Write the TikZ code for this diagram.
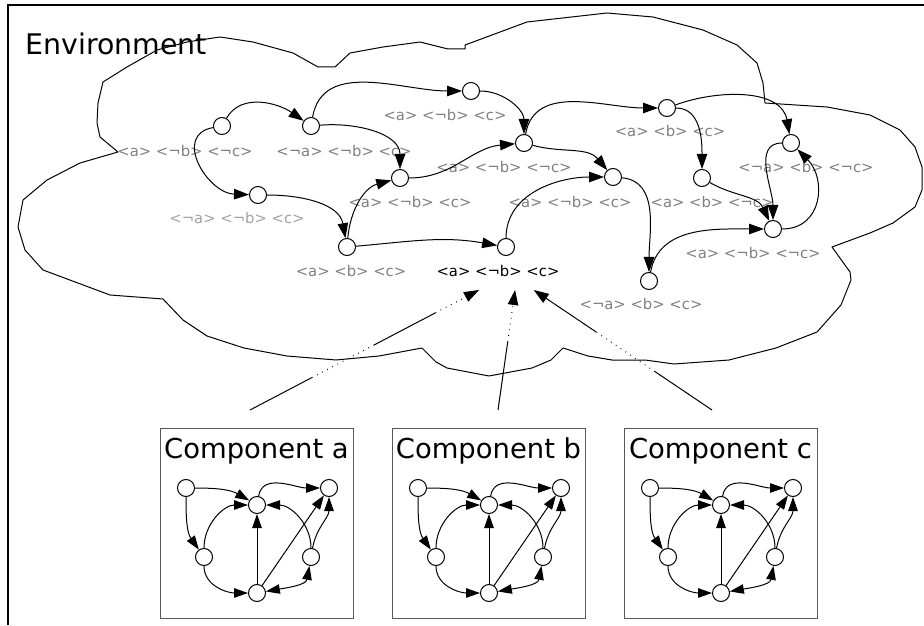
\documentclass[tikz,border=0pt]{standalone}
\usepackage{fontspec}
\setmainfont{DejaVu Sans}
\usetikzlibrary{arrows.meta}

\definecolor{labelgray}{gray}{0.5}
\definecolor{fadedgray}{gray}{0.64}
\definecolor{boxgray}{gray}{0.35}

\begin{document}
\begin{tikzpicture}[x=1pt,y=1pt,
    >={Triangle[length=15pt,width=10.5pt]},
    state/.style={circle,draw,fill=white,line width=1pt,minimum size=17pt,inner sep=0pt},
    lab/.style={text=labelgray,font=\fontsize{14.8}{17}\selectfont,inner sep=0pt,outer sep=0pt},
    trans/.style={line width=1pt},
    dotline/.style={dash pattern=on 0.8pt off 5pt},
    compbox/.style={draw=boxgray,line width=1pt},
    comptitle/.style={font=\fontsize{27.4}{32}\selectfont,anchor=base,inner sep=0pt}]

    \useasboundingbox (0,0) rectangle (924,625);

    \draw[line width=2pt] (8,0) -- (8,620) -- (924,620);
    \node[font=\fontsize{28.4}{34}\selectfont,anchor=base west,inner sep=0pt]
        (env) at (25.5,570) {Environment};

    \draw[line width=1pt,line join=round]
        (118,473) -- (100,488) -- (97,502) -- (98,522) -- (103,543) -- (127,558)
        -- (157,575) -- (187,583) -- (220,588) -- (253,583) -- (293,572) -- (318,558)
        -- (335,558) -- (350,572) -- (383,578) -- (420,583) -- (448,576) -- (465,576)
        -- (465,580) -- (527,603) -- (607,612) -- (653,608) -- (703,595) -- (737,580)
        -- (757,562) -- (763,542) -- (765,522) -- (827,518) -- (870,510) -- (900,495)
        -- (915,478) -- (922,458) -- (922,435) -- (915,418) -- (893,402) -- (870,392)
        -- (832,378) -- (850,353) -- (851,345) -- (841,320) -- (817,293) -- (776,277)
        -- (729,265) -- (674,261) -- (645,265) -- (612,265) -- (588,269) -- (563,277)
        -- (551,265) -- (532,257) -- (489,249) -- (447,257) -- (436,263) -- (422,277)
        -- (379,269) -- (336,265) -- (287,269) -- (244,277) -- (207,289) -- (183,305)
        -- (163,326) -- (110,330) -- (43,355) -- (25,375) -- (18,398) -- (23,425)
        -- (47,445) -- (80,462) -- cycle;

    \node[state] (s1) at (222,499) {};
    \node[state] (s2) at (311,499) {};
    \node[state] (s3) at (258,430) {};
    \node[state] (s4) at (347,378) {};
    \node[state] (s5) at (400,447) {};
    \node[state] (s6) at (471,534) {};
    \node[state] (s7) at (524,482) {};
    \node[state] (s8) at (506,378) {};
    \node[state] (s9) at (613,448) {};
    \node[state] (s10) at (667,517) {};
    \node[state] (s11) at (702,447) {};
    \node[state] (s12) at (791,482) {};
    \node[state] (s13) at (773,396) {};
    \node[state] (s14) at (649,344) {};

    \node[lab] (l1) at (185,474) {<a> <¬b> <¬c>};
    \node[lab] (l2) at (344,474) {<¬a> <¬b> <c>};
    \node[lab,text=fadedgray] (l3) at (237,407) {<¬a> <¬b> <c>};
    \node[lab] (l4) at (351,354) {<a> <b> <c>};
    \node[lab] (l5) at (410,423) {<a> <¬b> <c>};
    \node[lab] (l6) at (445,510) {<a> <¬b> <c>};
    \node[lab] (l7) at (504,458) {<a> <¬b> <¬c>};
    \node[lab,text=black,minimum height=38pt] (l8) at (498,354) {<a> <¬b> <c>};
    \node[lab] (l9) at (570,423) {<a> <¬b> <c>};
    \node[lab] (l10) at (670,494) {<a> <b> <c>};
    \node[lab] (l11) at (712,423) {<a> <b> <¬c>};
    \node[lab] (l12) at (806,458) {<¬a> <b> <¬c>};
    \node[lab] (l13) at (753,372) {<a> <¬b> <¬c>};
    \node[lab] (l14) at (641,321) {<¬a> <b> <c>};

    \draw[->,trans] (s1) to[out=60,in=145] (s2);
    \draw[->,trans] (s1) to[out=190,in=178,looseness=1.4] (s3);
    \draw[->,trans] (s2) to[out=80,in=180] (s6);
    \draw[->,trans] (s2) to[out=5,in=90] (s5);
    \draw[->,trans] (s3) to[out=0,in=100] (s4);
    \draw[->,trans] (s4) to[out=85,in=195] (s5);
    \draw[->,trans] (s4) to[out=5,in=170] (s8);
    \draw[->,trans] (s5) to[out=0,in=185] (s7);
    \draw[->,trans] (s6) to[out=0,in=90] (s7);
    \draw[->,trans] (s7) to[out=80,in=180] (s10);
    \draw[->,trans] (s7) to[out=-15,in=130] (s9);
    \draw[->,trans] (s8) to[out=90,in=180] (s9);
    \draw[->,trans] (s9) to[out=-5,in=90] (s14);
    \draw[->,trans] (s10) to[out=0,in=90] (s11);
    \draw[->,trans] (s10) to[out=20,in=100] (s12);
    \draw[->,trans] (s11) to[out=-30,in=115] (s13);
    \draw[->,trans] (s12) to[out=180,in=90] (s13);
    \draw[->,trans] (s13) to[out=0,in=-45,looseness=1.3] (s12);
    \draw[->,trans] (s14) to[out=80,in=180] (s13);

    \coordinate (ea) at (250,215);
    \coordinate (eb) at (498,215);
    \coordinate (ec) at (712,215);

    \path (ea) -- (l8.225) coordinate[pos=0.27] (ea1)
        coordinate[pos=0.54] (ea2) coordinate[pos=0.81] (ea3);
    \draw[trans] (ea) -- (ea1);
    \draw[trans,dotline] (ea1) -- (ea2);
    \draw[trans] (ea2) -- (ea3);
    \draw[->,trans,dotline] (ea3) -- (l8.225);

    \path (eb) -- (l8.312) coordinate[pos=0.57] (eb1);
    \draw[trans] (eb) -- (eb1);
    \draw[->,trans,dotline] (eb1) -- (l8.312);

    \path (ec) -- (l8.332) coordinate[pos=0.32] (ec1) coordinate[pos=0.65] (ec2);
    \draw[trans] (ec) -- (ec1);
    \draw[trans,dotline] (ec1) -- (ec2);
    \draw[->,trans] (ec2) -- (l8.332);

    \foreach \dx/\comp in {0/a,232/b,464/c}
    {
    \begin{scope}[>={Triangle[length=14pt,width=9.5pt]}]
        \draw[compbox] (160+\dx,7) rectangle (353+\dx,197);
        \node[comptitle] (t\comp) at (256.5+\dx,167) {Component \comp};

        \node[state] (\comp1) at (186+\dx,137) {};
        \node[state] (\comp2) at (257+\dx,120) {};
        \node[state] (\comp3) at (329+\dx,137) {};
        \node[state] (\comp4) at (204+\dx,68) {};
        \node[state] (\comp5) at (311+\dx,68) {};
        \node[state] (\comp6) at (257+\dx,32) {};

        \draw[->,trans] (\comp1) to[out=0,in=150] (\comp2);
        \draw[->,trans] (\comp1) to[out=-90,in=125] (\comp4);
        \draw[->,trans] (\comp4) to[out=90,in=180] (\comp2);
        \draw[->,trans] (\comp4) to[out=-90,in=180] (\comp6);
        \draw[->,trans] (\comp6) -- (\comp2);
        \draw[->,trans] (\comp6) -- (\comp3);
        \draw[<->,trans] (\comp6) to[out=10,in=-100] (\comp5);
        \draw[->,trans] (\comp5) to[out=90,in=0] (\comp2);
        \draw[->,trans] (\comp5) to[out=80,in=-90] (\comp3);
        \draw[->,trans] (\comp2) to[out=80,in=180] (\comp3);
    \end{scope}
    }

\end{tikzpicture}
\end{document}
